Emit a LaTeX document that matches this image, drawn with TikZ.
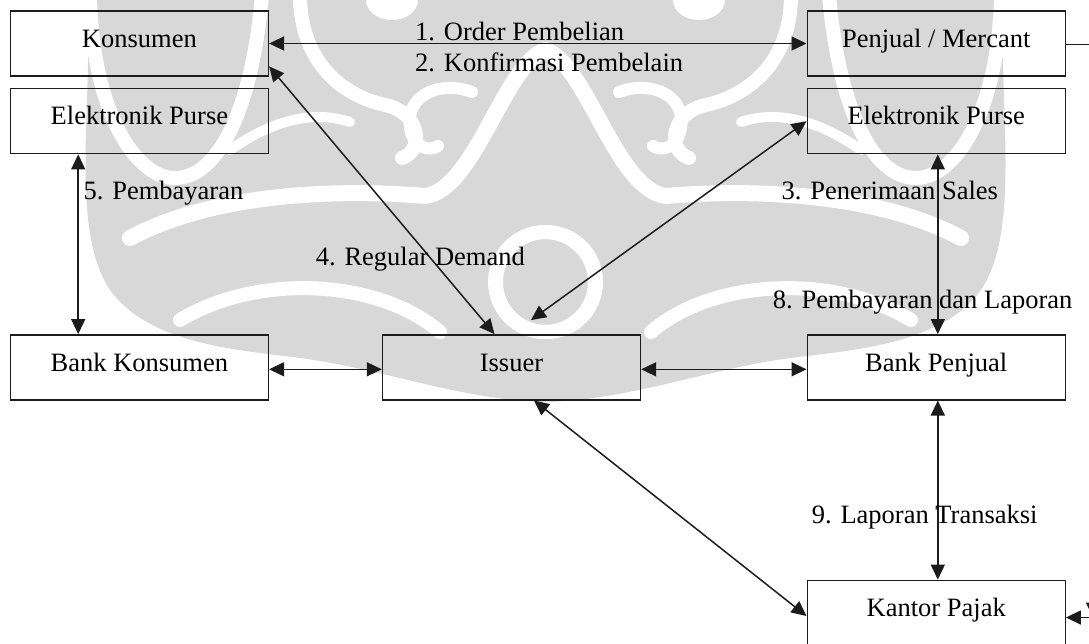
\documentclass[tikz,border=0pt]{standalone}
\usepackage{fontspec}
\setmainfont{Liberation Serif}
\usetikzlibrary{arrows.meta}
\definecolor{ink}{RGB}{28,28,28}
\definecolor{wm}{RGB}{216,216,216}

% left half of the background emblem; the right half is its mirror image
\newcommand\emblemFill{%
  \fill[wm] (546,0) -- (88,0) .. controls (92,110) and (70,230) .. (110,290)
    .. controls (150,345) and (240,350) .. (300,358)
    .. controls (380,368) and (460,400) .. (546,402) -- cycle;}
\newcommand\emblemLines{%
  \begin{scope}[white,line cap=round]
    % hanging drop at the top corner
    \draw[line width=14pt] (90,-5) .. controls (92,110) and (135,178) .. (175,178)
      .. controls (218,178) and (252,110) .. (262,-5);
    % horn curling inwards
    \draw[line width=14pt] (300,-5) .. controls (300,60) and (340,95) .. (385,105)
      .. controls (420,112) and (425,150) .. (402,158);
    \fill (392,0) ellipse[x radius=26pt,y radius=20pt];
    % hook beside the central dome
    \draw[line width=12pt] (472,92) .. controls (440,80) and (405,95) .. (410,128)
      .. controls (413,148) and (430,152) .. (438,146);
    % broad band rising into the outline of the central dome
    \draw[line width=16pt] (130,238) .. controls (210,195) and (330,188) .. (425,196)
      .. controls (475,190) and (505,62) .. (546,50);
    \draw[line width=10pt] (230,150) .. controls (280,115) and (320,112) .. (350,122);
    % ring below the dome
    \draw[line width=14pt] (546,282) circle[radius=50pt];
    % lower sweep
    \draw[line width=14pt] (180,320) .. controls (260,272) and (380,280) .. (440,332);
  \end{scope}}

\begin{document}
\begin{tikzpicture}[x=1pt,y=-1pt,
  txt/.style={font=\fontsize{26.5}{30}\selectfont},
  box/.style={txt,draw=ink,line width=1.4pt,minimum width=258pt,minimum height=65pt,
    inner sep=0pt,text height=19.4pt,text depth=12pt},
  lbl/.style={txt,inner sep=0pt,anchor=base west},
  hd/.tip={Triangle[length=15pt,width=14pt]},
  link/.style={draw=ink,line width=1.5pt,hd-hd},
  oneway/.style={draw=ink,line width=1.5pt,-hd},
  plain/.style={draw=ink,line width=1.5pt}]
\useasboundingbox (0,0) rectangle (1089,643);
\clip (0,0) rectangle (1089,643);

% background emblem
\emblemFill
\begin{scope}[xshift=1091pt,xscale=-1]\emblemFill\end{scope}
\emblemLines
\begin{scope}[xshift=1091pt,xscale=-1]\emblemLines\end{scope}

% boxes
\node[box] (kons)   at (139.4,43.5)  {Konsumen};
\node[box] (epl)    at (139.4,121.2) {Elektronik Purse};
\node[box] (penj)   at (936.2,43.5)  {Penjual / Mercant};
\node[box] (epr)    at (936.2,121.2) {Elektronik Purse};
\node[box] (bkons)  at (139.4,367.3) {Bank Konsumen};
\node[box] (issuer) at (511.5,367.3) {Issuer};
\node[box] (bpenj)  at (936.2,367.3) {Bank Penjual};
\node[box] (pajak)  at (936.2,612.8) {Kantor Pajak};

% loose ends running off the right edge
\coordinate (outTop) at (1093,44.3);
\coordinate (outBot) at (1093,617.5);

% connectors
\draw[link] (kons.east) -- (penj.west);
\draw[link] (kons.-10) -- ([xshift=-17pt]issuer.north);
\draw[link] (epr.west) -- ([xshift=19.5pt,yshift=14pt]issuer.north);
\draw[link] ([xshift=-61.2pt]epl.south) -- ([xshift=-61.2pt]bkons.north);
\draw[link] ([xshift=1.6pt]epr.south) -- ([xshift=1.6pt]bpenj.north);
\draw[link] ([yshift=-2pt]bkons.east) -- ([yshift=-2pt]issuer.west);
\draw[link] ([yshift=-2pt]issuer.east) -- ([yshift=-2pt]bpenj.west);
\draw[link] ([xshift=22.5pt]issuer.south) -- ([yshift=-3.2pt]pajak.west);
\draw[link] ([xshift=1.6pt]bpenj.south) -- ([xshift=1.6pt]pajak.north);
\draw[plain] ([yshift=-0.8pt]penj.east) -- (outTop);
\draw[oneway] ([yshift=14pt]outBot) -- (outBot);
\draw[oneway] (outBot) -- ([yshift=-4.7pt]pajak.east);

% labels
\node[lbl] (l1) at (415,40)    {1. Order Pembelian};
\node[lbl] (l2) at (415,71)    {2. Konfirmasi Pembelain};
\node[lbl] (l3) at (781.4,199) {3. Penerimaan Sales};
\node[lbl] (l4) at (315.6,265.7) {4. Regular Demand};
\node[lbl] (l5) at (83.4,199)  {5. Pembayaran};
\node[lbl] (l8) at (772.7,308.3) {8. Pembayaran dan Laporan};
\node[lbl] (l9) at (811.6,523.3) {9. Laporan Transaksi};
\end{tikzpicture}
\end{document}
